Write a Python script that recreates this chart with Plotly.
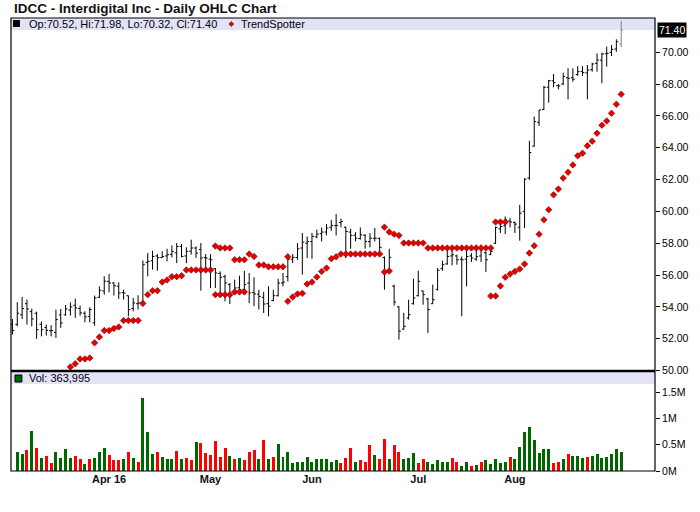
import plotly.graph_objects as go

# IDCC daily bars, Mar 3 2016 .. Aug 31 2016 (index -1 .. 125 on a trading-day axis)
opens = [52.9, 52.9, 53.5, 54.2, 53.7, 53.6, 52.9, 52.7, 52.5, 52.4,
         53.5, 53.5, 53.8, 54.1, 53.9, 53.6, 53.4, 53.0, 54.6, 55.0,
         55.6, 55.5, 55.3, 54.9, 54.7, 53.9, 54.2, 54.3, 56.8, 56.9,
         57.2, 57.1, 57.2, 57.3, 57.4, 57.8, 57.2, 57.5, 57.7, 57.6,
         57.1, 57.0, 56.4, 56.1, 55.9, 55.4, 54.9, 55.2, 55.1, 55.5,
         54.9, 54.8, 54.6, 54.2, 54.4, 54.7, 55.5, 55.9, 57.0, 57.1,
         57.7, 58.0, 58.1, 58.4, 58.6, 58.7, 59.0, 59.1, 59.3, 59.0,
         58.7, 58.5, 58.3, 58.5, 58.1, 58.3, 58.3, 57.1, 56.3, 55.3,
         54.0, 52.6, 53.3, 54.2, 54.7, 55.0, 54.5, 54.2, 55.1, 56.4,
         56.7, 57.2, 57.2, 57.0, 57.0, 57.2, 57.0, 57.2, 57.4, 57.3,
         58.0, 58.9, 59.1, 59.4, 59.3, 59.0, 60.0, 62.1, 64.1, 65.6,
         66.4, 67.8, 68.2, 67.9, 68.0, 68.4, 68.4, 68.6, 68.8, 68.7,
         68.9, 69.3, 69.5, 69.9, 70.0, 70.2, 70.52]
highs = [53.24, 54.29, 54.62, 54.46, 53.89, 53.70, 53.08, 52.89, 52.85, 53.83,
         53.87, 54.12, 54.29, 54.52, 54.08, 53.72, 53.97, 54.71, 55.29, 55.92,
         56.07, 55.54, 55.54, 55.08, 54.71, 54.56, 54.73, 56.92, 57.38, 57.53,
         57.32, 57.49, 57.65, 57.86, 58.01, 57.95, 57.74, 58.22, 57.80, 58.01,
         57.32, 57.32, 56.44, 56.23, 56.02, 55.50, 55.71, 55.96, 56.27, 56.13,
         55.86, 55.08, 54.94, 55.30, 55.08, 55.77, 56.13, 57.28, 57.32, 58.01,
         58.64, 58.43, 58.64, 58.85, 58.99, 59.20, 59.47, 59.83, 59.54, 59.05,
         58.91, 58.70, 58.99, 58.57, 58.64, 58.95, 58.36, 57.17, 57.65, 55.40,
         54.04, 53.62, 54.45, 55.77, 56.27, 55.02, 54.56, 55.40, 56.44, 56.90,
         57.70, 57.70, 57.28, 57.17, 57.80, 57.38, 57.90, 57.90, 57.49, 57.70,
         59.05, 59.33, 59.68, 59.58, 59.37, 60.41, 62.09, 64.43, 65.96, 66.37,
         67.88, 68.26, 68.63, 68.00, 68.72, 68.99, 68.99, 69.13, 69.13, 69.20,
         69.34, 69.93, 69.97, 70.35, 70.45, 70.81, 71.98]
lows = [52.26, 52.78, 53.24, 52.89, 52.78, 51.99, 52.15, 52.20, 52.15, 52.05,
        52.68, 53.45, 53.45, 53.31, 53.45, 53.03, 53.03, 52.82, 54.56, 54.77,
        54.92, 54.71, 54.50, 54.46, 53.41, 53.72, 53.83, 54.14, 55.92, 56.34,
        56.27, 57.07, 56.86, 57.11, 56.75, 57.11, 56.75, 57.28, 57.07, 55.02,
        56.23, 55.19, 55.19, 54.87, 54.35, 54.18, 54.77, 54.77, 55.08, 54.24,
        54.04, 53.83, 53.62, 53.40, 54.35, 54.66, 55.29, 55.60, 56.75, 56.96,
        56.02, 57.07, 57.03, 58.32, 58.11, 58.49, 58.78, 58.49, 59.00, 57.07,
        57.65, 58.11, 58.22, 57.65, 57.74, 58.11, 57.32, 55.08, 56.27, 54.08,
        51.94, 52.57, 53.20, 54.14, 54.66, 54.14, 52.36, 54.18, 55.02, 56.27,
        56.65, 56.61, 56.65, 53.41, 55.29, 56.82, 56.90, 56.82, 56.19, 57.24,
        57.95, 58.64, 58.57, 58.99, 58.64, 58.16, 58.95, 61.98, 64.07, 65.37,
        66.37, 66.83, 67.80, 67.67, 67.94, 67.04, 68.15, 68.51, 68.51, 67.04,
        68.78, 68.78, 68.05, 69.09, 69.76, 70.03, 70.32]
closes = [52.51, 53.60, 53.90, 53.87, 53.24, 52.57, 52.57, 52.53, 52.51, 53.20,
          52.99, 53.87, 54.00, 53.93, 53.62, 53.37, 53.83, 54.56, 55.04, 55.61,
          55.50, 55.33, 54.87, 54.87, 53.83, 54.25, 54.25, 56.65, 56.86, 57.17,
          57.11, 57.17, 57.28, 57.49, 57.80, 57.17, 57.49, 57.70, 57.38, 57.07,
          57.07, 56.96, 56.13, 55.86, 55.50, 54.77, 55.19, 55.08, 55.40, 54.87,
          54.81, 54.66, 54.18, 54.04, 54.70, 55.50, 55.56, 57.00, 57.11, 57.65,
          58.07, 58.11, 58.43, 58.57, 58.70, 58.95, 59.12, 59.12, 59.37, 58.74,
          58.49, 58.32, 58.53, 58.11, 58.32, 58.32, 57.74, 56.19, 57.11, 54.30,
          52.47, 52.78, 53.51, 54.56, 55.60, 54.77, 53.83, 54.45, 56.30, 56.65,
          57.17, 57.28, 56.96, 56.96, 57.17, 57.07, 57.17, 57.59, 56.96, 57.49,
          58.99, 59.05, 59.47, 59.33, 59.20, 59.89, 62.02, 63.70, 65.64, 66.37,
          67.80, 68.21, 68.09, 67.88, 68.47, 68.36, 68.30, 68.78, 68.72, 68.88,
          69.26, 69.51, 69.89, 69.93, 70.18, 70.66, 71.40]

# volume in millions of shares; first (edge) bar has no visible volume
volume_m = [None,
            0.36, 0.32, 0.39, 0.76, 0.43, 0.24, 0.28, 0.15, 0.36, 0.24,
            0.41, 0.24, 0.28, 0.22, 0.13, 0.22, 0.24, 0.36, 0.43, 0.30,
            0.20, 0.20, 0.22, 0.36, 0.24, 0.18, 1.39, 0.74, 0.32, 0.36,
            0.26, 0.22, 0.22, 0.38, 0.22, 0.24, 0.20, 0.55, 0.53, 0.34,
            0.30, 0.57, 0.26, 0.43, 0.28, 0.22, 0.24, 0.20, 0.36, 0.39,
            0.22, 0.59, 0.22, 0.26, 0.51, 0.26, 0.36, 0.15, 0.18, 0.18,
            0.26, 0.18, 0.22, 0.22, 0.22, 0.17, 0.20, 0.15, 0.24, 0.43,
            0.17, 0.20, 0.18, 0.49, 0.30, 0.22, 0.61, 0.22, 0.49, 0.36,
            0.22, 0.24, 0.34, 0.15, 0.22, 0.18, 0.13, 0.20, 0.17, 0.18,
            0.24, 0.18, 0.09, 0.17, 0.09, 0.11, 0.18, 0.20, 0.13, 0.22,
            0.15, 0.17, 0.26, 0.22, 0.45, 0.74, 0.83, 0.59, 0.34, 0.41,
            0.41, 0.15, 0.17, 0.22, 0.32, 0.28, 0.28, 0.24, 0.26, 0.28,
            0.32, 0.24, 0.26, 0.32, 0.41, 0.36]
last_volume = 363995
volume_up = [0,
             1, 1, 0, 1, 0, 1, 0, 0, 1, 1,
             1, 1, 0, 0, 1, 0, 1, 1, 1, 0,
             0, 0, 1, 0, 1, 0, 1, 1, 1, 0,
             1, 1, 1, 0, 1, 0, 0, 1, 0, 0,
             0, 0, 0, 0, 1, 0, 1, 0, 0, 0,
             1, 0, 1, 0, 1, 1, 1, 1, 1, 1,
             1, 1, 1, 1, 1, 1, 1, 0, 0, 0,
             1, 0, 0, 0, 1, 0, 0, 1, 0, 0,
             1, 1, 1, 0, 0, 1, 1, 1, 1, 1,
             0, 0, 1, 1, 0, 1, 0, 1, 1, 1,
             1, 1, 0, 1, 1, 1, 1, 1, 1, 1,
             1, 0, 0, 1, 0, 1, 1, 1, 0, 1,
             1, 1, 1, 1, 1, 1]

# TrendSpotter dots (two rows where support and resistance overlap)
ts_low = [None] * 12 + [
    50.23, 50.42, 50.73, 50.73, 50.79, 51.74, 52.11, 52.51, 52.51, 52.64,
    52.74, 53.14, 53.14, 53.14, 53.14, 54.22, 54.77, 55.02, 55.02, 55.56,
    55.69, 55.90, 55.90, 55.96, 56.32, 56.32, 56.32, 56.32, 56.32, 56.32,
    54.77, 54.77, 54.77, 54.77, 54.94, 54.94, 54.94,
    None, None, None, None, None, None, None, None,
    54.35, 54.62, 54.81, 54.85, 55.44, 55.56, 55.88, 56.23, 56.44, 57.03,
    57.15, 57.32, 57.32, 57.32, 57.32, 57.32, 57.32, 57.32, 57.32, 57.32,
    56.19, 56.25,
    None, None, None, None, None, None, None, None, None, None,
    None, None, None, None, None, None, None, None, None, None,
    54.68, 54.68, 55.31, 55.86, 56.06, 56.23, 56.38, 56.69, 57.38, 57.84,
    58.57, 59.47, 60.10, 61.04, 61.40, 62.09, 62.46, 62.92, 63.49, 63.66,
    64.12, 64.41, 64.91, 65.41, 65.68, 66.16, 66.73, 67.36]
ts_high = [None] * 42 + [
    57.82, 57.70, 57.70, 57.70, 56.96, 56.96, 56.96, 57.32, 57.17, 56.63,
    56.63, 56.52, 56.52, 56.52, 56.52, 57.15,
    None, None, None, None, None, None, None, None, None, None,
    None, None, None, None, None, None, None, None, None,
    59.01, 58.70, 58.57, 58.49, 58.01, 58.01, 58.01, 58.01, 58.01, 57.70,
    57.70, 57.70, 57.70, 57.70, 57.70, 57.70, 57.70, 57.70, 57.70, 57.70,
    57.70, 57.70, 57.70, 59.33, 59.33, 59.33,
    None, None, None, None, None, None, None, None, None, None,
    None, None, None, None, None, None, None, None, None, None,
    None, None, None, None, None]

month_idx = [19, 40, 61, 83, 103]
month_labels = ["Apr 16", "May", "Jun", "Jul", "Aug"]
price_ticks = [50, 52, 54, 56, 58, 60, 62, 64, 66, 68, 70]
vol_ticks = [0, 0.5, 1, 1.5]
vol_tick_labels = ["0M", "0.5M", "1M", "1.5M"]

x = list(range(-1, len(opens) - 1))

W, H = 700, 512
ML, MR, MT, MB = 11, 40, 18, 41
PW, PH = W - ML - MR, H - MT - MB


def px(v):
    return (v - ML) / PW


def py(v):
    return (H - MB - v) / PH


FONT = "Liberation Sans, Arial, sans-serif"
GREEN = "#006600"
RED = "#ff0000"

fig = go.Figure()

fig.add_trace(go.Ohlc(
    x=x[:-1], open=opens[:-1], high=highs[:-1], low=lows[:-1], close=closes[:-1],
    increasing_line_color="black", decreasing_line_color="black",
    line_width=1, tickwidth=0.4, xaxis="x", yaxis="y", showlegend=False))
fig.add_trace(go.Ohlc(
    x=x[-1:], open=opens[-1:], high=highs[-1:], low=lows[-1:], close=closes[-1:],
    increasing_line_color="#808080", decreasing_line_color="#808080",
    line_width=1, tickwidth=0.4, xaxis="x", yaxis="y", showlegend=False))

for dots in (ts_low, ts_high):
    fig.add_trace(go.Scatter(
        x=x, y=dots, mode="markers", xaxis="x", yaxis="y", showlegend=False,
        marker=dict(symbol="diamond", size=5, color="#e60000",
                    line=dict(color="#800000", width=0.6))))

fig.add_trace(go.Bar(
    x=x, y=volume_m, xaxis="x2", yaxis="y2", width=0.62, showlegend=False,
    marker=dict(color=[GREEN if u else RED for u in volume_up], line_width=0)))

split = py(371)
fig.update_layout(
    width=W, height=H,
    margin=dict(l=ML, r=MR, t=MT, b=MB),
    paper_bgcolor="white", plot_bgcolor="white",
    font=dict(family=FONT, size=11, color="black"),
    bargap=0,
    xaxis=dict(domain=[0, 1], range=[-1.3, 132], anchor="y",
               showticklabels=False, showgrid=False, zeroline=False,
               rangeslider=dict(visible=False), ticks=""),
    xaxis2=dict(domain=[0, 1], range=[-1.3, 132], anchor="y2", matches="x",
                tickvals=month_idx, ticktext=month_labels, ticks="",
                tickfont=dict(family=FONT, size=11, color="#111", weight="bold"),
                showgrid=False, zeroline=False),
    yaxis=dict(domain=[py(371) + 0.001, 1], range=[50, 72.15], side="right",
               tickvals=price_ticks, ticktext=[f"{v:.2f}" for v in price_ticks],
               ticks="outside", ticklen=4, tickcolor="black",
               tickfont=dict(size=10.5), showgrid=False, zeroline=False),
    yaxis2=dict(domain=[0, py(372)], range=[0, 1.88], side="right",
                tickvals=vol_ticks, ticktext=vol_tick_labels,
                ticks="outside", ticklen=4, tickcolor="black",
                tickfont=dict(size=10.5), showgrid=False, zeroline=False),
)

shapes = [
    # legend bands
    dict(type="rect", xref="paper", yref="paper", x0=0, x1=1, y0=py(30), y1=1,
         fillcolor="#e3e3f8", line_width=0, layer="below"),
    dict(type="rect", xref="paper", yref="paper", x0=0, x1=1, y0=py(384), y1=py(372),
         fillcolor="#e3e3f8", line_width=0, layer="below"),
    # legend swatches
    dict(type="rect", xref="paper", yref="paper", x0=px(13), x1=px(20), y0=py(27), y1=py(20),
         fillcolor="black", line_width=0),
    dict(type="rect", xref="paper", yref="paper", x0=px(15), x1=px(22), y0=py(382), y1=py(375),
         fillcolor=GREEN, line=dict(color="black", width=1)),
    dict(type="path", xref="paper", yref="paper",
         path=f"M {px(233)} {py(21.5)} L {px(235.5)} {py(24)} L {px(233)} {py(26.5)} L {px(230.5)} {py(24)} Z",
         fillcolor="#e60000", line=dict(color="#800000", width=0.6)),
    # frames
    dict(type="rect", xref="paper", yref="paper", x0=0, x1=1, y0=0, y1=1,
         line=dict(color="black", width=1.2), fillcolor="rgba(0,0,0,0)"),
    dict(type="line", xref="paper", yref="paper", x0=0, x1=1, y0=split, y1=split,
         line=dict(color="black", width=2.5)),
]
fig.update_layout(shapes=shapes)

fig.add_annotation(text="<b>IDCC - Interdigital Inc - Daily OHLC Chart</b>",
                   xref="paper", yref="paper", x=px(12), y=py(9), xanchor="left",
                   yanchor="middle", showarrow=False,
                   font=dict(family=FONT, size=13.5, color="#111"))
fig.add_annotation(text=f"Op:{opens[-1]:.2f}, Hi:{highs[-1]:.2f}, Lo:{lows[-1]:.2f}, Cl:{closes[-1]:.2f}",
                   xref="paper", yref="paper", x=px(27), y=py(24), xanchor="left",
                   yanchor="middle", showarrow=False, font=dict(size=11))
fig.add_annotation(text="TrendSpotter", xref="paper", yref="paper", x=px(241), y=py(24),
                   xanchor="left", yanchor="middle", showarrow=False, font=dict(size=11))
fig.add_annotation(text=f"Vol: {last_volume:,}",
                   xref="paper", yref="paper", x=px(27), y=py(378), xanchor="left",
                   yanchor="middle", showarrow=False, font=dict(size=11))
fig.add_annotation(text=f"{closes[-1]:.2f}", xref="paper", yref="y", x=1, y=closes[-1],
                   xanchor="left", yanchor="middle", xshift=2, showarrow=False,
                   bgcolor="black", borderpad=1, font=dict(size=10.5, color="white"))

# the page body has a default 8px margin; drop it so the chart sits at the window origin
fig.write_html("out.html", config={"displayModeBar": False},
               post_script="document.body.style.margin='0';")
